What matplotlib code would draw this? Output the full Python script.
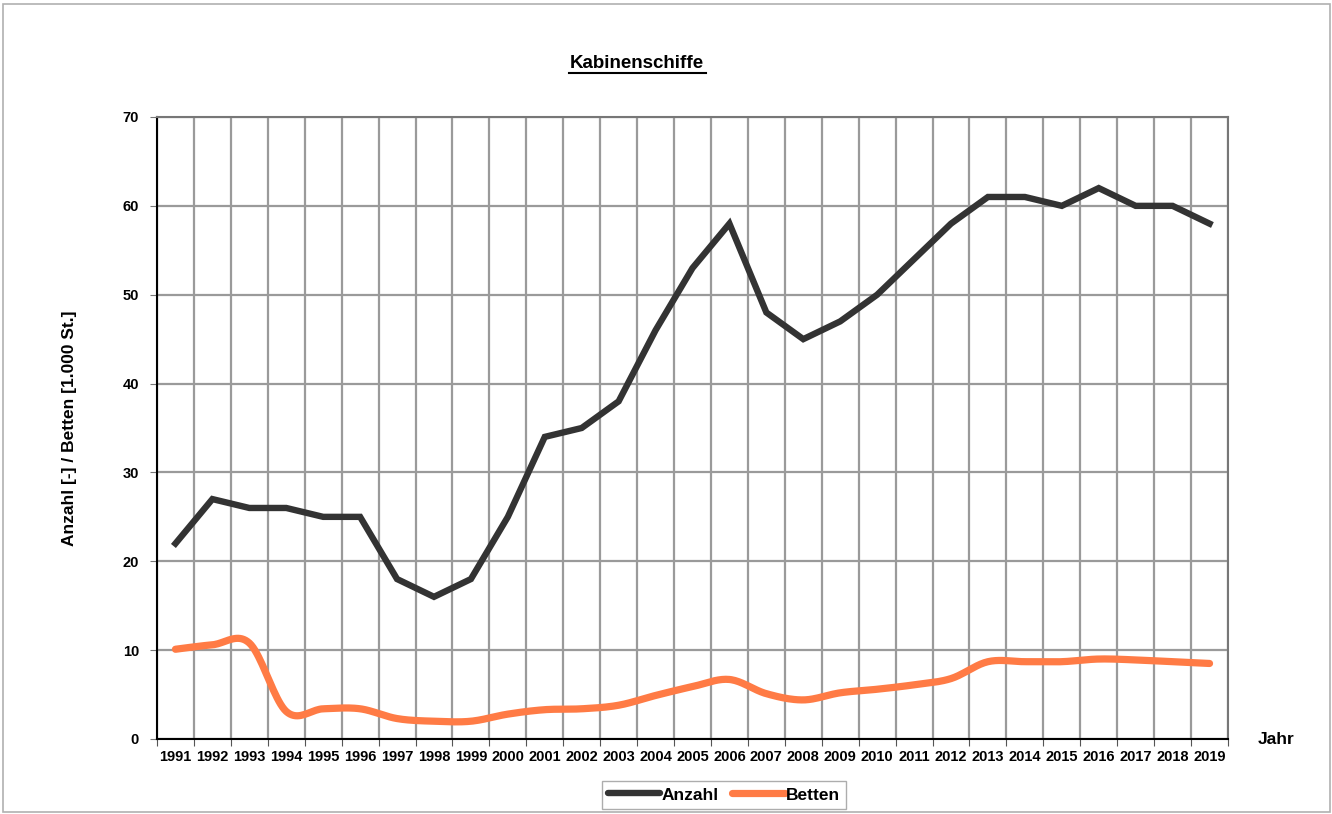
import numpy as np
import matplotlib.pyplot as plt
from matplotlib.lines import Line2D
from matplotlib.patches import Rectangle

plt.rcParams['font.family'] = ['Liberation Sans', 'DejaVu Sans']
plt.rcParams['font.weight'] = 'bold'
plt.rcParams['axes.labelweight'] = 'bold'

years = list(range(1991, 2020))
anzahl = [22, 27, 26, 26, 25, 25, 18, 16, 18, 25, 34, 35, 38, 46, 53, 58, 48, 45,
          47, 50, 54, 58, 61, 61, 60, 62, 60, 60, 58]
betten = [10.1, 10.6, 10.8, 3.1, 3.4, 3.4, 2.3, 2.0, 2.0, 2.8, 3.3, 3.4, 3.8, 4.9,
          5.9, 6.7, 5.1, 4.4, 5.2, 5.6, 6.1, 6.8, 8.7, 8.7, 8.7, 9.0, 8.9, 8.7, 8.5]

c_anz = '#333333'
c_bet = '#FF7B45'


def smooth(x, y, n=20):
    # Catmull-Rom style bezier smoothing like the spreadsheet line
    x = np.asarray(x, float)
    y = np.asarray(y, float)
    xs, ys = [], []
    for i in range(len(x) - 1):
        p0 = (x[max(i - 1, 0)], y[max(i - 1, 0)])
        p1 = (x[i], y[i])
        p2 = (x[i + 1], y[i + 1])
        p3 = (x[min(i + 2, len(x) - 1)], y[min(i + 2, len(x) - 1)])
        c1 = (p1[0] + (p2[0] - p0[0]) / 6, p1[1] + (p2[1] - p0[1]) / 6)
        c2 = (p2[0] - (p3[0] - p1[0]) / 6, p2[1] - (p3[1] - p1[1]) / 6)
        t = np.linspace(0, 1, n, endpoint=(i == len(x) - 2))
        for k in range(2):
            pts = [p1[k], c1[k], c2[k], p2[k]]
            v = ((1 - t) ** 3 * pts[0] + 3 * (1 - t) ** 2 * t * pts[1]
                 + 3 * (1 - t) * t ** 2 * pts[2] + t ** 3 * pts[3])
            (xs if k == 0 else ys).append(v)
    return np.concatenate(xs), np.concatenate(ys)


fig = plt.figure(figsize=(13.32, 8.14), dpi=100)
ax = fig.add_axes([157 / 1332, 75 / 814, 1071 / 1332, 622 / 814])

x = np.arange(len(years))
ax.plot(x, anzahl, color=c_anz, lw=4.6, solid_joinstyle='miter', zorder=3)
sx, sy = smooth(x, betten)
ax.plot(sx, sy, color=c_bet, lw=5.2, solid_capstyle='round', zorder=3)

ax.set_xlim(-0.5, len(years) - 0.5)
ax.set_ylim(0, 70)
ax.set_yticks(range(0, 71, 10))
ax.set_xticks(np.arange(-0.5, len(years), 1))
ax.set_xticklabels([])
ax.set_xticks(x, minor=True)
ax.set_xticklabels([str(yr) for yr in years], minor=True)
ax.tick_params(axis='x', which='minor', length=0, labelsize=10.5, pad=8)
ax.tick_params(axis='x', which='major', length=5, color='#555555', direction='out')
ax.tick_params(axis='y', length=5, color='#777777', labelsize=10.5, pad=8)
ax.grid(True, which='major', color='#9a9a9a', lw=1.6)
ax.set_axisbelow(True)
for s in ['left', 'bottom']:
    ax.spines[s].set_color('black')
    ax.spines[s].set_linewidth(1.5)
for s in ['top', 'right']:
    ax.spines[s].set_color('#777777')
    ax.spines[s].set_linewidth(1.5)

ax.set_ylabel('Anzahl [-] / Betten [1.000 St.]', fontsize=12.5, labelpad=33)
fig.text(1276 / 1332, 1 - 740 / 814, 'Jahr', fontsize=12.5, ha='center', va='center')
fig.text(637 / 1332, 1 - 63 / 814, 'Kabinenschiffe', fontsize=13.5, ha='center',
         va='center')
fig.add_artist(Line2D([569 / 1332, 706 / 1332], [1 - 73 / 814, 1 - 73 / 814],
                      color='black', lw=1.5))

handles = [Line2D([], [], color=c_anz, lw=4.6, solid_capstyle='round'),
           Line2D([], [], color=c_bet, lw=5.2, solid_capstyle='round')]
leg = fig.legend(handles, ['Anzahl', 'Betten'], loc='center',
                 bbox_to_anchor=(724 / 1332, 1 - 795 / 814), ncol=2, fontsize=12.5,
                 frameon=True, fancybox=False, handlelength=3.0, handletextpad=0.1,
                 columnspacing=0.8, borderpad=0.35)
leg.get_frame().set_edgecolor('#999999')
leg.get_frame().set_linewidth(1.0)

fig.add_artist(Rectangle((3 / 1332, 2 / 814), 1327 / 1332, 808 / 814,
                         transform=fig.transFigure, fill=False,
                         edgecolor='#b0b0b0', lw=1.2))

fig.savefig('out.png', dpi=100)
